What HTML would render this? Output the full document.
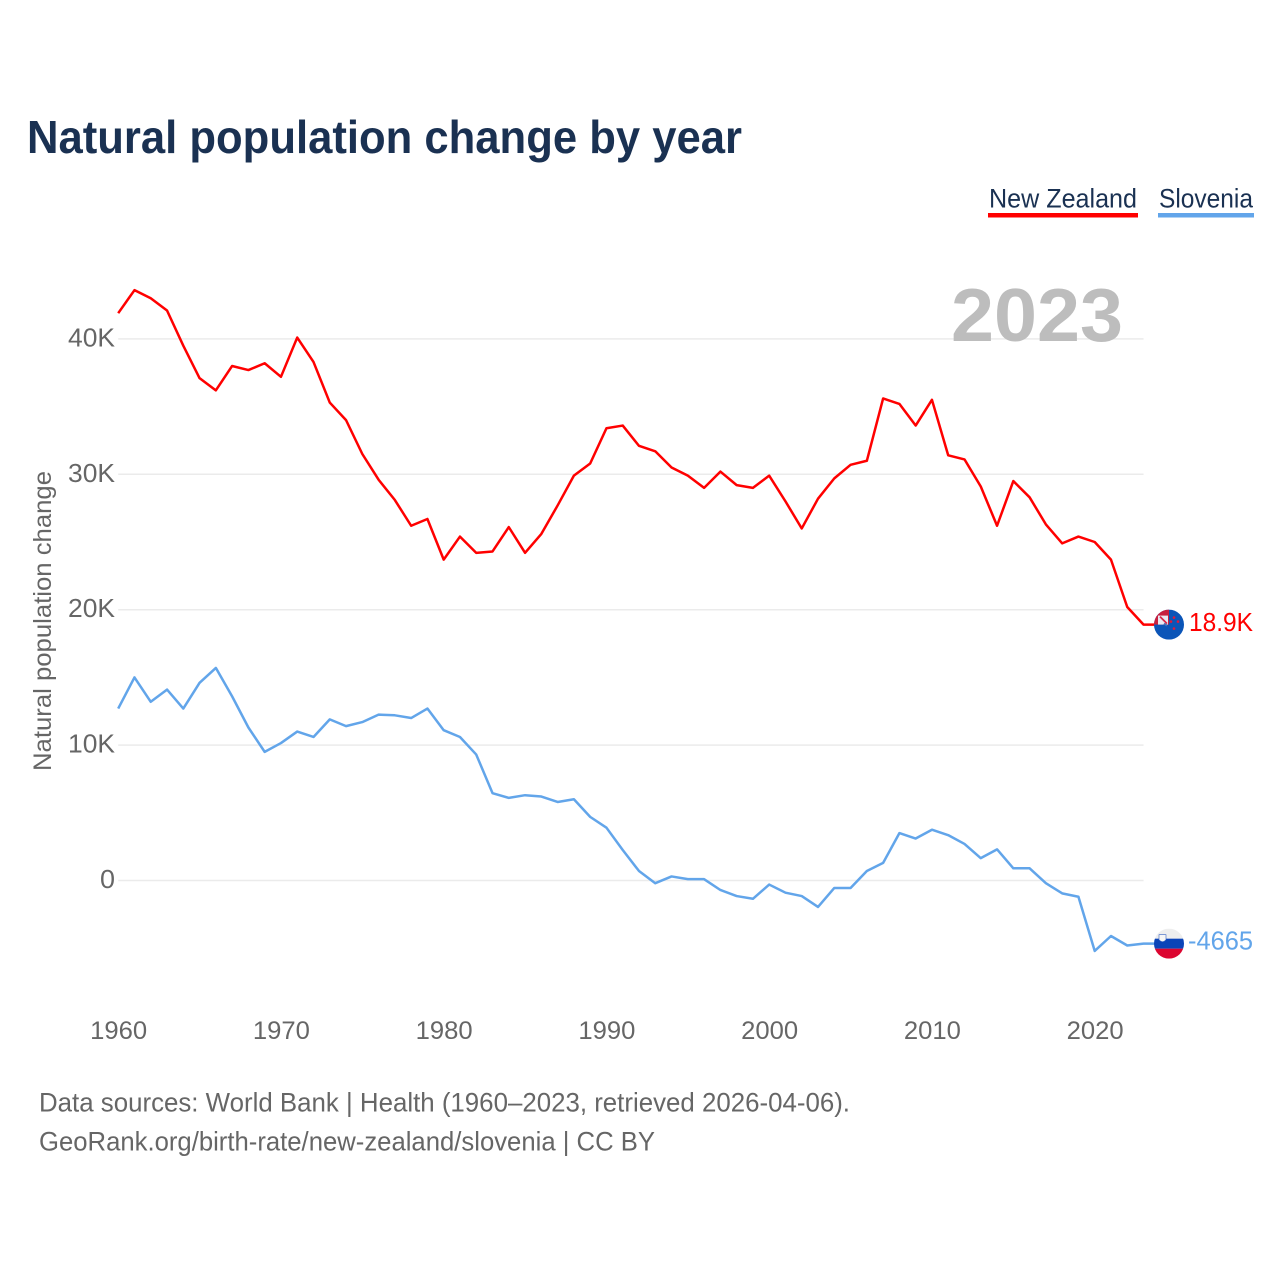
<!DOCTYPE html>
<html lang="en">
<head>
<meta charset="utf-8">
<title>Natural population change by year</title>
<style>
html,body{margin:0;padding:0;background:#fff;}
svg{display:block;}
text{font-family:"Liberation Sans",Carlito,sans-serif;}
</style>
</head>
<body>
<svg id="chart" width="1280" height="1280" viewBox="0 0 1280 1280" xmlns="http://www.w3.org/2000/svg">
  <defs>
    <clipPath id="clip-nz"><circle id="clip-nz-c" r="15"></circle></clipPath>
    <clipPath id="clip-si"><circle id="clip-si-c" r="15"></circle></clipPath>
  </defs>
  <text x="27" y="153" font-size="46" font-weight="700" fill="#1a3152" textLength="715" lengthAdjust="spacingAndGlyphs">Natural population change by year</text>
  <text x="989" y="207.5" font-size="27" fill="#1a3152" textLength="148" lengthAdjust="spacingAndGlyphs">New Zealand</text>
  <rect x="988" y="213" width="150" height="4.5" fill="#ff0000"></rect>
  <text x="1159" y="207.5" font-size="27" fill="#1a3152" textLength="94" lengthAdjust="spacingAndGlyphs">Slovenia</text>
  <rect x="1158" y="213" width="96" height="4.5" fill="#62a5ea"></rect>
  <g id="grid"></g>
  <text x="951" y="341" font-size="75" font-weight="700" fill="#bdbdbd" textLength="172" lengthAdjust="spacingAndGlyphs">2023</text>
  <text transform="translate(51,771) rotate(-90)" font-size="25" fill="#666" textLength="300" lengthAdjust="spacingAndGlyphs">Natural population change</text>
  <g id="yticks"></g>
  <g id="xticks"></g>
  <g id="series"></g>
  <g id="flag-nz"></g>
  <g id="flag-si"></g>
  <text x="39" y="1111.5" font-size="27" fill="#666" textLength="811" lengthAdjust="spacingAndGlyphs">Data sources: World Bank | Health (1960–2023, retrieved 2026-04-06).</text>
  <text x="39" y="1150.5" font-size="27" fill="#666" textLength="616" lengthAdjust="spacingAndGlyphs">GeoRank.org/birth-rate/new-zealand/slovenia | CC BY</text>
</svg>
<script>
const startYear = 1960;
const newZealand = [41.9,43.6,43.0,42.1,39.5,37.1,36.2,38.0,37.7,38.2,37.2,40.1,38.3,35.3,34.0,31.5,29.6,28.1,26.2,26.7,23.7,25.4,24.2,24.3,26.1,24.2,25.6,27.7,29.9,30.8,33.4,33.6,32.1,31.7,30.5,29.9,29.0,30.2,29.2,29.0,29.9,28.0,26.0,28.2,29.7,30.7,31.0,35.6,35.2,33.6,35.5,31.4,31.1,29.1,26.2,29.5,28.3,26.3,24.9,25.4,25.0,23.7,20.2,18.9];
const slovenia = [12.7,15.0,13.2,14.1,12.7,14.6,15.7,13.6,11.3,9.5,10.15,11.0,10.6,11.9,11.4,11.7,12.25,12.2,12.0,12.7,11.1,10.6,9.3,6.45,6.1,6.3,6.2,5.8,6.0,4.7,3.9,2.25,0.7,-0.2,0.3,0.1,0.1,-0.7,-1.15,-1.35,-0.3,-0.9,-1.15,-1.95,-0.55,-0.55,0.7,1.3,3.5,3.1,3.75,3.35,2.7,1.65,2.3,0.9,0.9,-0.2,-0.95,-1.2,-5.2,-4.1,-4.8,-4.665];
const yTicks = [0,10,20,30,40];
const yTickLabels = ["0","10K","20K","30K","40K"];
const xTicks = [1960,1970,1980,1990,2000,2010,2020];
const endLabels = ["18.9K","-4665"];

const NS = "http://www.w3.org/2000/svg";
function xScale(year){ return 118.2 + (year - 1960) * 16.275; }
function yScale(k){ return 880.5 - k * 13.54; }
function make(tag, attrs, parent){
  const el = document.createElementNS(NS, tag);
  for (const k in attrs) el.setAttribute(k, attrs[k]);
  parent.appendChild(el);
  return el;
}
const lastYear = startYear + newZealand.length - 1;

const grid = document.getElementById("grid");
const yAxis = document.getElementById("yticks");
yTicks.forEach(function(v, i){
  const line = make("line", {x1:xScale(1960), x2:xScale(lastYear), y1:yScale(v), y2:yScale(v), stroke:"#ebebeb", "stroke-width":1.5}, grid);
  
  
  const t = make("text", {x:115, y:yScale(v)+7.5, "font-size":25.5, fill:"#666", "text-anchor":"end", textLength: yTickLabels[i].length > 1 ? 47 : 15, lengthAdjust:"spacingAndGlyphs"}, yAxis);
  
  
  t.textContent = yTickLabels[i];
});

const xAxis = document.getElementById("xticks");
xTicks.forEach(function(y){
  const t = make("text", {x:xScale(y)+0.5, y:1039, "font-size":25, fill:"#666", "text-anchor":"middle", textLength:57, lengthAdjust:"spacingAndGlyphs"}, xAxis);
  
  
  t.textContent = y;
});

const seriesGroup = document.getElementById("series");
const flagX = 1169;
function drawLine(values, color){
  const d = values.map(function(v, i){
    return (i ? "L" : "M") + xScale(startYear + i).toFixed(2) + " " + yScale(v).toFixed(2);
  }).join("") + "L" + flagX + " " + yScale(values[values.length - 1]).toFixed(2);
  return make("path", {d:d, fill:"none", stroke:color, "stroke-width":2.5, "stroke-linejoin":"round"}, seriesGroup);
}
const nzLine = drawLine(newZealand, "#ff0000");


const siLine = drawLine(slovenia, "#62a5ea");



const nzY = yScale(newZealand[newZealand.length - 1]);
const siY = yScale(slovenia[slovenia.length - 1]);

const cn = document.getElementById("clip-nz-c");
cn.setAttribute("cx", flagX); cn.setAttribute("cy", nzY);
const cs = document.getElementById("clip-si-c");
cs.setAttribute("cx", flagX); cs.setAttribute("cy", siY);

const fn = document.getElementById("flag-nz");
fn.setAttribute("clip-path", "url(#clip-nz)");
make("rect", {x:flagX-15, y:nzY-15, width:30, height:30, fill:"#0b55b8"}, fn);
make("rect", {x:flagX-15, y:nzY-15, width:15, height:15, fill:"#c8203f"}, fn);
make("rect", {x:flagX-11, y:nzY-9, width:10, height:9, fill:"#e9e9f2"}, fn);
make("path", {d:"M"+(flagX-9)+" "+(nzY-8)+"L"+(flagX-2)+" "+(nzY-1), stroke:"#d8284a", "stroke-width":1.8}, fn);
make("path", {d:"M"+(flagX-5)+" "+(nzY-1)+"L"+(flagX-2)+" "+(nzY+1), stroke:"#4a6fb5", "stroke-width":2}, fn);
[[5,-7],[9,-3],[2,-3],[5,4]].forEach(function(p){
  make("circle", {cx:flagX+p[0], cy:nzY+p[1], r:1.3, fill:"#e0183c"}, fn);
});

const fs = document.getElementById("flag-si");
fs.setAttribute("clip-path", "url(#clip-si)");
make("rect", {x:flagX-15, y:siY-15, width:30, height:10, fill:"#eeeeee"}, fs);
make("rect", {x:flagX-15, y:siY-5, width:30, height:10, fill:"#0b44b8"}, fs);
make("rect", {x:flagX-15, y:siY+5, width:30, height:10, fill:"#dc0530"}, fs);
make("path", {d:"M"+(flagX-10)+" "+(siY-9)+"h7v5q-3.5 4-7 0z", fill:"#f6f6f6", stroke:"#3a66c4", "stroke-width":0.6}, fs);

const nzLabel = make("text", {x:1253, y:nzY+6.5, "font-size":26, fill:"#ff0000", "text-anchor":"end", textLength:64, lengthAdjust:"spacingAndGlyphs"}, seriesGroup);


nzLabel.textContent = endLabels[0];
const siLabel = make("text", {x:1253, y:siY+6, "font-size":26, fill:"#62a5ea", "text-anchor":"end", textLength:65, lengthAdjust:"spacingAndGlyphs"}, seriesGroup);


siLabel.textContent = endLabels[1];
</script>
</body>
</html>
